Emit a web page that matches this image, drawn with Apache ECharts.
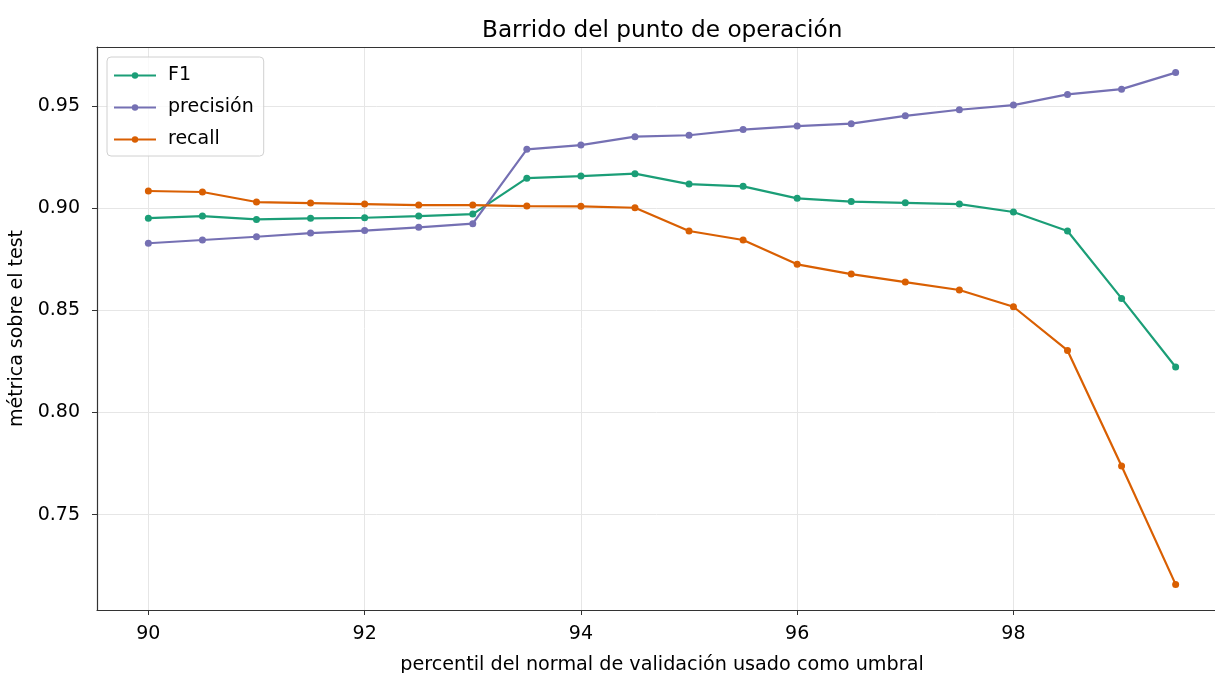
<!DOCTYPE html>
<html>
<head>
<meta charset="utf-8">
<script src="https://cdn.jsdelivr.net/npm/echarts@6/dist/echarts.min.js"></script>
<style>
html,body{margin:0;padding:0;background:#fff;}
#chart{width:1215px;height:673px;}
</style>
</head>
<body>
<div id="chart"></div>
<script>
const percentiles = [90, 90.5, 91, 91.5, 92, 92.5, 93, 93.5, 94, 94.5, 95, 95.5, 96, 96.5, 97, 97.5, 98, 98.5, 99, 99.5];
const f1 = [0.8952, 0.8962, 0.8946, 0.8951, 0.8954, 0.8962, 0.8972, 0.9148, 0.9158, 0.9170, 0.9119, 0.9108, 0.9049, 0.9033, 0.9027, 0.9021, 0.8982, 0.8889, 0.8559, 0.8223];
const precision = [0.8829, 0.8845, 0.8861, 0.8879, 0.8891, 0.8907, 0.8925, 0.9289, 0.9310, 0.9351, 0.9358, 0.9386, 0.9403, 0.9415, 0.9453, 0.9483, 0.9506, 0.9558, 0.9584, 0.9665];
const recall = [0.9085, 0.9080, 0.9031, 0.9026, 0.9021, 0.9016, 0.9016, 0.9011, 0.9010, 0.9003, 0.8889, 0.8845, 0.8726, 0.8678, 0.8639, 0.8600, 0.8518, 0.8304, 0.7738, 0.7158];
const xTicks = [90, 92, 94, 96, 98];
const yTicks = [0.75, 0.80, 0.85, 0.90, 0.95];
const seriesNames = ['F1', 'precisión', 'recall'];
const colors = ['#1b9e77', '#7570b3', '#d95f02'];

const FONT = 'DejaVu Sans';
const chart = echarts.init(document.getElementById('chart'), null, {renderer: 'canvas'});
const pairs = arr => percentiles.map((p, i) => [p, arr[i]]);
const allY = f1.concat(precision, recall);
const yMinD = Math.min(...allY), yMaxD = Math.max(...allY);
const yPad = (yMaxD - yMinD) * 0.05;
const xPad = (percentiles[percentiles.length - 1] - percentiles[0]) * 0.05;
const xMin = percentiles[0] - xPad;
const xMax = percentiles[percentiles.length - 1] + xPad;

const mk = (name, data, color) => ({
  name: name,
  type: 'line',
  data: pairs(data),
  symbol: 'circle',
  symbolSize: 7,
  showSymbol: true,
  lineStyle: {color: color, width: 2.2},
  itemStyle: {color: color},
  animation: false
});

chart.setOption({
  animation: false,
  textStyle: {fontFamily: FONT},
  title: {
    text: 'Barrido del punto de operación',
    left: 477,
    top: 14,
    textStyle: {fontFamily: FONT, fontSize: 23.2, fontWeight: 'normal', color: '#000'}
  },
  legend: {
    data: seriesNames,
    orient: 'vertical',
    left: 107,
    top: 57,
    itemWidth: 42,
    itemHeight: 8,
    itemGap: 13,
    padding: [9, 10, 7, 6],
    backgroundColor: 'rgba(255,255,255,0.8)',
    borderColor: '#d0d0d0',
    borderWidth: 1,
    borderRadius: 4,
    textStyle: {fontFamily: FONT, fontSize: 19, color: '#000', padding: [0, 0, 0, 7]}
  },
  grid: {
    left: 97, right: -12, top: 47, bottom: 63,
    show: false,
    outerBoundsMode: 'none',
    containLabel: false
  },
  xAxis: [{
    type: 'value',
    min: xMin,
    max: xMax,
    name: 'percentil del normal de validación usado como umbral',
    nameLocation: 'middle',
    nameGap: 46,
    nameTextStyle: {fontFamily: FONT, fontSize: 19.2, color: '#000'},
    axisLine: {show: true, onZero: false, lineStyle: {color: '#333', width: 1.2}},
    axisTick: {show: true, length: 5, inside: false, customValues: xTicks, lineStyle: {color: '#333'}},
    axisLabel: {customValues: xTicks, fontFamily: FONT, fontSize: 19, color: '#000', margin: 15, formatter: v => String(v)},
    splitLine: {show: true, lineStyle: {color: '#e6e6e6', width: 1}}
  }, {
    type: 'value',
    position: 'top',
    min: xMin,
    max: xMax,
    axisLine: {show: true, onZero: false, lineStyle: {color: '#333', width: 1.2}},
    axisTick: {show: false},
    axisLabel: {show: false},
    splitLine: {show: false}
  }],
  yAxis: {
    type: 'value',
    min: yMinD - yPad,
    max: yMaxD + yPad,
    name: 'métrica sobre el test',
    nameLocation: 'middle',
    nameGap: 62,
    nameTextStyle: {fontFamily: FONT, fontSize: 19, color: '#000'},
    axisLine: {show: true, onZero: false, lineStyle: {color: '#333', width: 1.2}},
    axisTick: {show: true, length: 5, inside: false, customValues: yTicks, lineStyle: {color: '#333'}},
    axisLabel: {customValues: yTicks, fontFamily: FONT, fontSize: 19, color: '#000', margin: 17, formatter: v => v.toFixed(2)},
    splitLine: {show: true, lineStyle: {color: '#e6e6e6', width: 1}}
  },
  series: [mk(seriesNames[0], f1, colors[0]), mk(seriesNames[1], precision, colors[1]), mk(seriesNames[2], recall, colors[2])]
});
</script>
</body>
</html>
